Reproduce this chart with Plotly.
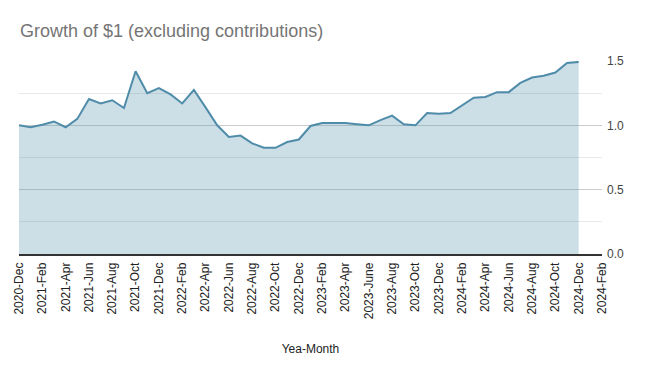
import plotly.graph_objects as go

# Monthly growth-of-$1 values, 2020-Dec .. 2024-Dec
months = list(range(49))
values = [1.00, 0.985, 1.005, 1.03, 0.985, 1.05, 1.205, 1.17, 1.195, 1.135,
          1.42, 1.25, 1.29, 1.24, 1.17, 1.275, 1.14, 1.00, 0.91, 0.92,
          0.86, 0.826, 0.825, 0.87, 0.89, 0.995, 1.018, 1.018, 1.018, 1.008,
          1.00, 1.04, 1.075, 1.008, 1.00, 1.095, 1.09, 1.095, 1.157, 1.215,
          1.22, 1.258, 1.258, 1.33, 1.372, 1.385, 1.41, 1.485, 1.493]

tick_positions = list(range(0, 51, 2))
tick_labels = ["2020-Dec", "2021-Feb", "2021-Apr", "2021-Jun", "2021-Aug", "2021-Oct",
               "2021-Dec", "2022-Feb", "2022-Apr", "2022-Jun", "2022-Aug", "2022-Oct",
               "2022-Dec", "2023-Feb", "2023-Apr", "2023-June", "2023-Aug", "2023-Oct",
               "2023-Dec", "2024-Feb", "2024-Apr", "2024-Jun", "2024-Aug", "2024-Oct",
               "2024-Dec", "2024-Feb"]

y_ticks = [0.0, 0.5, 1.0, 1.5]

line_color = "rgb(79,140,170)"
fill_color = "rgba(79,140,170,0.29)"

fig = go.Figure()
fig.add_trace(go.Scatter(
    x=months, y=values, mode="lines",
    line=dict(color=line_color, width=2),
    fill="tozeroy", fillcolor=fill_color,
    hoverinfo="x+y", showlegend=False,
))

font_family = "Liberation Sans, Arial, sans-serif"

# the page body adds an 8px offset, so the figure is sized/margined to compensate
fig.update_layout(
    width=640, height=363,
    margin=dict(l=11, r=46, t=53, b=116.5, autoexpand=False),
    paper_bgcolor="white", plot_bgcolor="white",
    font=dict(family=font_family, size=12, color="#222222"),
    title=dict(text="Growth of $1 (excluding contributions)",
               x=12 / 640, xanchor="left", xref="container",
               y=1 - 23 / 363, yanchor="middle", yref="container",
               automargin=False,
               font=dict(family=font_family, size=18, color="#757575")),
    xaxis=dict(
        range=[0, 50], tickmode="array", tickvals=tick_positions, ticktext=tick_labels,
        tickangle=-90, showgrid=False, zeroline=False, automargin=False,
        showline=True, linecolor="#333333", linewidth=1.5,
        ticks="", tickfont=dict(size=12, color="#222222"), ticklabelstandoff=2,
        title=dict(text="Yea-Month", font=dict(size=12, color="#222222"), standoff=26),
    ),
    yaxis=dict(
        side="right", range=[0, 1.5], tickmode="array", tickvals=y_ticks,
        tickformat=".1f", showgrid=True, gridcolor="#cccccc", gridwidth=1,
        zeroline=False, showline=False, ticks="", automargin=False,
        tickfont=dict(size=12, color="#444444"), ticklabelstandoff=4,
        minor=dict(dtick=0.25, tick0=0, showgrid=True, gridcolor="#e8e8e8", gridwidth=1),
    ),
)

fig.write_html("out.html")
